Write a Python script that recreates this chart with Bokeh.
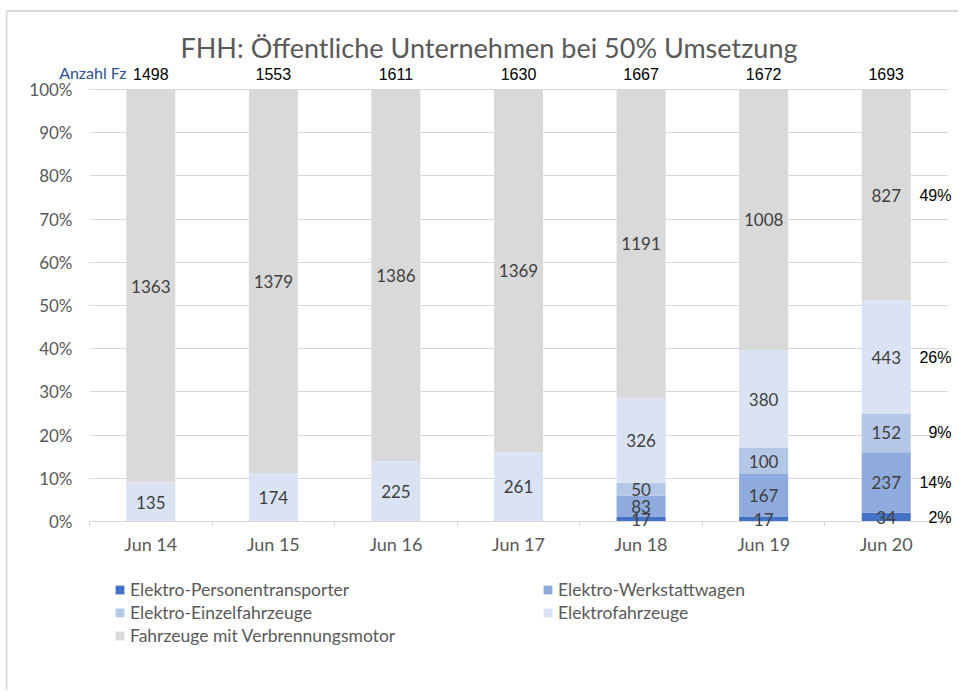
from bokeh.plotting import figure
from bokeh.models import (ColumnDataSource, Range1d, FixedTicker, LabelSet, Label,
                          Legend, LegendItem, NumeralTickFormatter, Grid)
from bokeh.embed import file_html
from bokeh.resources import INLINE
from bokeh.core.properties import value

# ---------------- data ----------------
categories = ["Jun 14", "Jun 15", "Jun 16", "Jun 17", "Jun 18", "Jun 19", "Jun 20"]
series_names = ["Elektro-Personentransporter", "Elektro-Werkstattwagen",
                "Elektro-Einzelfahrzeuge", "Elektrofahrzeuge",
                "Fahrzeuge mit Verbrennungsmotor"]
personentransporter = [0, 0, 0, 0, 17, 17, 34]
werkstattwagen = [0, 0, 0, 0, 83, 167, 237]
einzelfahrzeuge = [0, 0, 0, 0, 50, 100, 152]
elektrofahrzeuge = [135, 174, 225, 261, 326, 380, 443]
verbrennungsmotor = [1363, 1379, 1386, 1369, 1191, 1008, 827]
totals = [1498, 1553, 1611, 1630, 1667, 1672, 1693]
last_shares = ["2%", "14%", "9%", "26%", "49%"]
y_ticks = [0.0, 0.1, 0.2, 0.3, 0.4, 0.5, 0.6, 0.7, 0.8, 0.9, 1.0]
title_text = "FHH: Öffentliche Unternehmen bei 50% Umsetzung"
count_caption = "Anzahl Fz"

colors = ["#4472C4", "#8FAADC", "#B4C7E7", "#DAE3F3", "#D9D9D9"]
series_values = [personentransporter, werkstattwagen, einzelfahrzeuge,
                 elektrofahrzeuge, verbrennungsmotor]

FONT = "Lato"
W, H = 958, 690
BAR_L, BAR_R = 89, 947        # px extent of the category band
BAR_TOP, BAR_BOT = 89, 521    # px of 100 % and 0 %
FRAME_L, FRAME_R = 5, W       # px extent of the drawing frame
FRAME_TOP, FRAME_BOT = 9, H
PPU = (BAR_R - BAR_L) / len(categories)
PPY = BAR_BOT - BAR_TOP


def px_x(px):
    return -0.5 + (px - BAR_L) / PPU


def px_y(py):
    return (BAR_BOT - py) / PPY


# ---------------- derived shares ----------------
xs = list(range(len(categories)))
sums = [sum(s[i] for s in series_values) for i in xs]
keys = ["s%d" % k for k in range(len(series_values))]
data = {"x": xs}
for k, s in zip(keys, series_values):
    data[k] = [s[i] / sums[i] for i in xs]
src = ColumnDataSource(data)

lx, ly, lt = [], [], []
right_y = []
for i in xs:
    cum = 0.0
    for k, s in enumerate(series_values):
        f = s[i] / sums[i]
        if s[i] > 0:
            lx.append(i)
            ly.append(cum + f / 2)
            lt.append(str(s[i]))
        if i == xs[-1]:
            right_y.append(cum + f / 2)
        cum += f
seg_src = ColumnDataSource(dict(x=lx, y=ly, t=lt))
share_src = ColumnDataSource(dict(x=[xs[-1] + 0.5] * len(last_shares),
                                  y=right_y, t=last_shares))
tot_src = ColumnDataSource(dict(x=xs, y=[1.0 + 16 / PPY] * len(xs),
                                t=[str(t) for t in totals]))

# ---------------- figure ----------------
p = figure(width=W, height=H, title=None,
           x_range=Range1d(px_x(FRAME_L), px_x(FRAME_R)),
           y_range=Range1d(px_y(FRAME_BOT), px_y(FRAME_TOP)),
           x_axis_location="above",
           output_backend="svg", toolbar_location=None,
           min_border_left=FRAME_L, min_border_right=W - FRAME_R,
           min_border_top=FRAME_TOP, min_border_bottom=H - FRAME_BOT)
p.outline_line_color = None

# chart area border (top and left edge)
p.segment(x0=[px_x(6), px_x(6)], y0=[px_y(10.5), px_y(10.5)],
          x1=[px_x(FRAME_R), px_x(6)], y1=[px_y(10.5), px_y(FRAME_BOT)],
          line_color="#D9D9D9", line_width=2)

# title
p.add_layout(Label(x=px_x(488.5), y=px_y(47), text=title_text, text_align="center",
                   text_baseline="middle", text_font=FONT, text_font_size="27px",
                   text_color="#595959"))

# gridlines restricted to the category band
p.xgrid.grid_line_color = None
p.ygrid.ticker = FixedTicker(ticks=y_ticks)
if "cross_bounds" in Grid.properties():
    p.ygrid.grid_line_color = "#D9D9D9"
    p.ygrid.cross_bounds = (-0.5, len(categories) - 0.5)
else:
    p.ygrid.grid_line_color = None
    p.segment(x0=[-0.5] * len(y_ticks), x1=[len(categories) - 0.5] * len(y_ticks),
              y0=y_ticks, y1=y_ticks, line_color="#D9D9D9", line_width=1)

renderers = p.vbar_stack(keys, x="x", width=0.4, source=src,
                         fill_color=colors, line_color=None)

# category axis drawn at the 0 % line, labels below it
p.xaxis.fixed_location = 0
p.xaxis.bounds = (-0.5, len(categories) - 0.5)
p.xaxis.ticker = FixedTicker(ticks=xs, minor_ticks=[i - 0.5 for i in range(len(xs) + 1)])
p.xaxis.major_label_overrides = {i: c for i, c in zip(xs, categories)}
p.xaxis.major_tick_out = 0
p.xaxis.major_tick_in = 0
p.xaxis.minor_tick_out = 0
p.xaxis.minor_tick_in = 5
p.xaxis.minor_tick_line_color = "#D9D9D9"
p.xaxis.axis_line_color = "#D9D9D9"
p.xaxis.major_label_standoff = -33
p.xaxis.major_label_text_font = FONT
p.xaxis.major_label_text_font_size = "18px"
p.xaxis.major_label_text_color = "#595959"

p.yaxis.ticker = FixedTicker(ticks=y_ticks)
p.yaxis.formatter = NumeralTickFormatter(format="0%")
p.yaxis.axis_line_color = None
p.yaxis.major_tick_out = 0
p.yaxis.major_tick_in = 0
p.yaxis.minor_tick_line_color = None
p.yaxis.major_label_standoff = -(72 - FRAME_L)
p.yaxis.major_label_text_font = FONT
p.yaxis.major_label_text_font_size = "17px"
p.yaxis.major_label_text_color = "#595959"

# texts
p.add_layout(LabelSet(x="x", y="y", text="t", source=seg_src, text_align="center",
                      text_baseline="middle", text_font=value(FONT),
                      text_font_size="17px", text_color="#404040"))
p.add_layout(LabelSet(x="x", y="y", text="t", source=share_src, text_align="right",
                      x_offset=4, text_baseline="middle",
                      text_font=value("Liberation Sans"),
                      text_font_size="16px", text_color="black"))
p.add_layout(LabelSet(x="x", y="y", text="t", source=tot_src, text_align="center",
                      text_baseline="middle", text_font=value("Liberation Sans"),
                      text_font_size="16px", text_color="black"))
p.add_layout(Label(x=-0.5, y=1.0 + 17 / PPY, x_offset=126 - BAR_L, text=count_caption,
                   text_align="right", text_baseline="middle", text_font=FONT,
                   text_font_size="16px", text_color="#2F5496"))

# legend: two columns under the axis
order = [0, 2, 4, 1, 3]   # left column first, then right column
legend = Legend(items=[LegendItem(label=series_names[k], renderers=[renderers[k]]) for k in order],
                location=(114 - FRAME_L, FRAME_BOT - 646), orientation="vertical", nrows=3,
                glyph_width=11, glyph_height=11, label_standoff=5, spacing=2,
                padding=0, margin=0, label_width=410, label_height=21,
                border_line_color=None, background_fill_alpha=0,
                label_text_font=FONT, label_text_font_size="17.5px",
                label_text_color="#595959")
p.add_layout(legend)

open("out.html", "w").write(file_html(p, INLINE))
